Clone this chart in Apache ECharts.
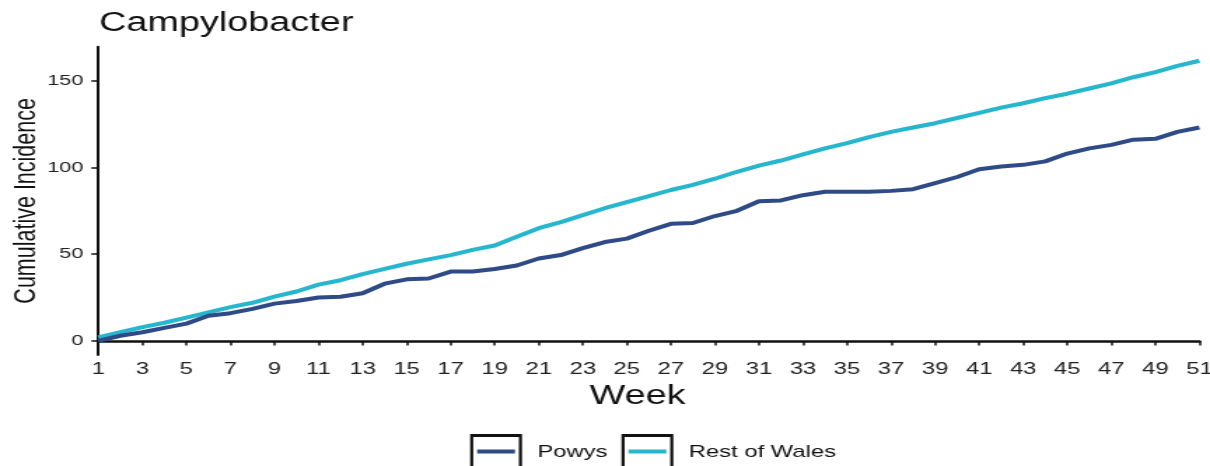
<!DOCTYPE html>
<html>
<head>
<meta charset="utf-8">
<script src="https://cdn.jsdelivr.net/npm/echarts@6/dist/echarts.min.js"></script>
<style>
  html, body { margin: 0; padding: 0; background: #fff; overflow: hidden; }
  #wrap { width: 1210px; height: 466px; overflow: hidden; }
  #chart { width: 864px; height: 466px; transform: scaleX(1.4005); transform-origin: 0 0; }
</style>
</head>
<body>
<div id="wrap"><div id="chart"></div></div>
<script>
// ---- data ----
const weeks = [];
for (let w = 1; w <= 51; w++) weeks.push(String(w));

const powys = [
  0, 3, 5, 7.5, 10, 14.5, 16, 18.5, 21.5, 23,
  25, 25.5, 27.5, 33, 35.5, 36, 40, 40, 41.5, 43.5,
  47.5, 49.5, 53.5, 57, 59, 63.5, 67.5, 68, 72, 75,
  80.5, 81, 84, 86, 86, 86, 86.5, 87.5, 91, 94.5,
  99, 100.5, 101.5, 103.5, 108, 111, 113, 116, 116.5, 120.5,
  123
];
const restOfWales = [
  2, 5, 8, 10.5, 13.5, 16.5, 19.5, 22, 25.5, 28.5,
  32.5, 35, 38.5, 41.5, 44.5, 47, 49.5, 52.5, 55, 60,
  65, 68.5, 72.5, 76.5, 80, 83.5, 87, 90, 93.5, 97.5,
  101, 104, 107.5, 111, 114, 117.5, 120.5, 123, 125.5, 128.5,
  131.5, 134.5, 137, 140, 142.5, 145.5, 148.5, 152, 155, 158.5,
  161.5
];
const seriesNames = ['Powys', 'Rest of Wales'];
const yTicks = [0, 50, 100, 150];

const colors = ['#2f4b87', '#26b7cf'];
const FONT = '"Liberation Sans", Arial, sans-serif';

const framePath = 'path://M0,0 H37 V36 H0 Z M2.2,3 V33 H34.8 V3 Z';
const barPath = 'path://M0,0 M37,36 M5,15.5 H32 V19.5 H5 Z';

const legendBase = {
  orient: 'horizontal',
  left: 335.7,
  top: 434,
  padding: 0,
  itemWidth: 37,
  itemHeight: 36,
  itemGap: 10,
  symbolKeepAspect: false,
  selectedMode: false,
  data: seriesNames
};

const chart = echarts.init(document.getElementById('chart'), null, { renderer: 'canvas' });
chart.setOption({
  animation: false,
  backgroundColor: '#ffffff',
  color: colors,
  title: {
    text: 'Campylobacter',
    left: 70.8,
    top: 10,
    padding: 0,
    textStyle: { fontFamily: FONT, fontSize: 27, fontWeight: 'normal', color: '#111' }
  },
  legend: [
    Object.assign({}, legendBase, {
      icon: framePath,
      itemStyle: { color: '#111', borderWidth: 0 },
      textStyle: { fontFamily: FONT, fontSize: 17, color: '#111', padding: [0, 0, 0, 6] }
    }),
    Object.assign({}, legendBase, {
      icon: barPath,
      itemStyle: { borderWidth: 0 },
      textStyle: { fontFamily: FONT, fontSize: 17, color: 'rgba(0,0,0,0)', padding: [0, 0, 0, 6] }
    })
  ],
  grid: { left: 70.2, right: 7.6, top: 46.7, bottom: 111, containLabel: false, outerBoundsMode: 'none' },
  xAxis: {
    type: 'category',
    data: weeks,
    boundaryGap: false,
    name: 'Week',
    nameLocation: 'middle',
    nameGap: 19,
    nameTextStyle: { fontFamily: FONT, fontSize: 27, color: '#111', padding: [0, 16, 0, 0] },
    axisLine: { lineStyle: { color: '#111', width: 2.5 } },
    axisTick: { interval: 1, length: 4.5, lineStyle: { color: '#111', width: 1.5 } },
    axisLabel: { interval: 1, margin: 6, fontFamily: FONT, fontSize: 17, color: '#222' },
    splitLine: { show: false }
  },
  yAxis: {
    type: 'value',
    min: -8.1,
    max: 169.6,
    name: 'Cumulative Incidence',
    nameLocation: 'middle',
    nameRotate: 90,
    nameGap: 40.5,
    nameMoveOverlap: false,
    nameTextStyle: { fontFamily: FONT, fontSize: 21.5, color: '#111' },
    axisLine: { show: true, lineStyle: { color: '#111', width: 2 } },
    axisTick: { show: true, customValues: yTicks, length: 5, lineStyle: { color: '#111', width: 1.5 } },
    axisLabel: { customValues: yTicks, margin: 10.7, fontFamily: FONT, fontSize: 15.5, color: '#222' },
    splitLine: { show: false }
  },
  series: [
    {
      name: seriesNames[0], type: 'line', data: powys,
      symbol: 'none', lineStyle: { width: 4, color: colors[0] }, z: 3
    },
    {
      name: seriesNames[1], type: 'line', data: restOfWales,
      symbol: 'none', lineStyle: { width: 4, color: colors[1] }, z: 2
    }
  ]
});
</script>
</body>
</html>
